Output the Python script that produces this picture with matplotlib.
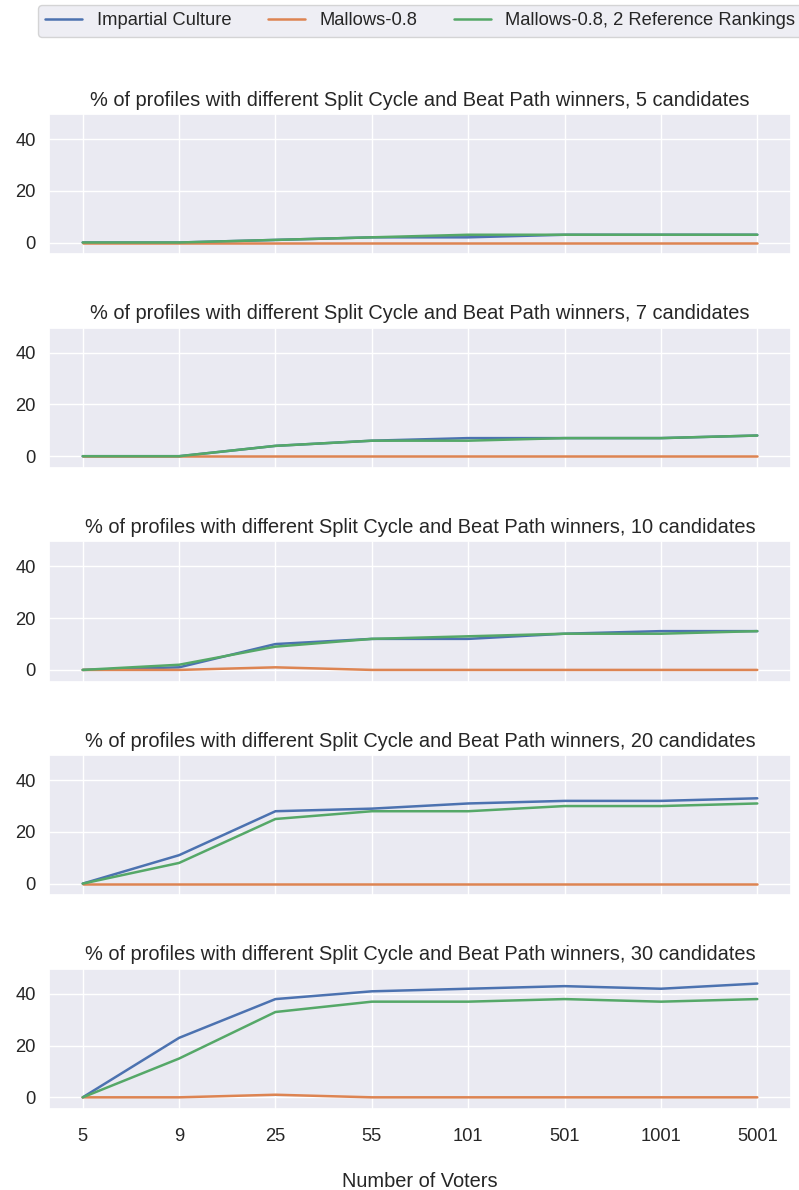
import matplotlib
matplotlib.use("Agg")
import matplotlib.pyplot as plt
import seaborn as sns

voters = ["5", "9", "25", "55", "101", "501", "1001", "5001"]
num_cands = [5, 7, 10, 20, 30]

impartial = [
    [0, 0, 1, 2, 2, 3, 3, 3],
    [0, 0, 4, 6, 7, 7, 7, 8],
    [0, 1, 10, 12, 12, 14, 15, 15],
    [0, 11, 28, 29, 31, 32, 32, 33],
    [0, 23, 38, 41, 42, 43, 42, 44],
]
mallows = [
    [0, 0, 0, 0, 0, 0, 0, 0],
    [0, 0, 0, 0, 0, 0, 0, 0],
    [0, 0, 1, 0, 0, 0, 0, 0],
    [0, 0, 0, 0, 0, 0, 0, 0],
    [0, 0, 1, 0, 0, 0, 0, 0],
]
mallows_2ref = [
    [0, 0, 1, 2, 3, 3, 3, 3],
    [0, 0, 4, 6, 6, 7, 7, 8],
    [0, 2, 9, 12, 13, 14, 14, 15],
    [0, 8, 25, 28, 28, 30, 30, 31],
    [0, 15, 33, 37, 37, 38, 37, 38],
]

sns.set_theme(font_scale=1.2)
plt.rcParams["font.family"] = ["Liberation Sans", "DejaVu Sans"]

fig, axs = plt.subplots(5, 1, figsize=(7.99, 11.9), dpi=100, sharex=True)
fig.subplots_adjust(left=0.0613, right=0.990, top=0.9042, bottom=0.0681, hspace=0.525)

x = list(range(len(voters)))
for i, ax in enumerate(axs):
    ax.plot(x, impartial[i], lw=1.8, label="Impartial Culture")
    ax.plot(x, mallows[i], lw=1.8, label="Mallows-0.8")
    ax.plot(x, mallows_2ref[i], lw=1.8, label="Mallows-0.8, 2 Reference Rankings")
    ax.set_ylim(-4.5, 49.7)
    ax.set_yticks([0, 20, 40])
    ax.set_title(f"% of profiles with different Split Cycle and Beat Path winners, {num_cands[i]} candidates")

axs[-1].set_xticks(x)
axs[-1].set_xticklabels(voters)
axs[-1].tick_params(axis="x", pad=8)
axs[-1].set_xlabel("Number of Voters", labelpad=19)

handles, labels = axs[0].get_legend_handles_labels()
fig.legend(handles, labels, ncol=3, loc="upper left", borderaxespad=0,
           bbox_to_anchor=(38 / 799, 1 - 5 / 1190))

fig.savefig("out.png", dpi=100)
